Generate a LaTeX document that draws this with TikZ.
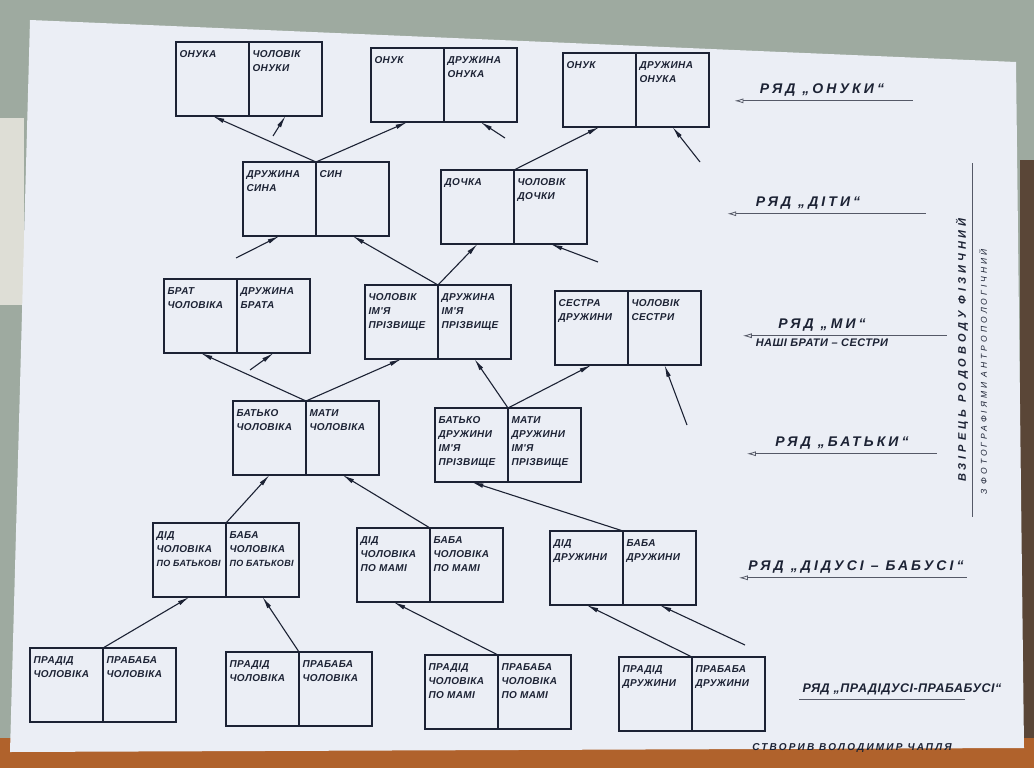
\documentclass[tikz,border=0pt]{standalone}
\usepackage{fontspec}
\newfontfamily\hand[LetterSpace=4]{Liberation Sans}
\newfontfamily\handwide[LetterSpace=22]{Liberation Sans}
\newfontfamily\handvert[LetterSpace=36]{Liberation Sans}
\usetikzlibrary{arrows.meta, positioning}
\definecolor{ink}{RGB}{28,34,52}
\definecolor{paper}{RGB}{235,238,245}
\definecolor{wall}{RGB}{158,170,160}
\definecolor{sill}{RGB}{222,222,214}
\definecolor{wood}{RGB}{176,98,44}
\definecolor{frame}{RGB}{90,70,55}

\newcommand{\cell}[1]{\parbox[t][56pt][t]{66pt}{\raggedright #1}}
\newcommand{\tight}[1]{{\fontsize{9}{14}\selectfont #1}}

\tikzset{
    half/.style={draw=ink, line width=1.6pt, outer sep=0pt, inner sep=0pt,
        minimum width=73pt, minimum height=74pt, text=ink,
        font=\hand\bfseries\itshape\fontsize{10}{14}\selectfont},
    link/.style={draw=ink, line width=1.1pt, -{Latex[length=12pt,width=4.5pt]}},
    rowlabel/.style={text=ink, font=\handwide\bfseries\itshape\fontsize{14}{16}\selectfont},
    rowline/.style={draw=ink!75, line width=0.8pt, {Latex[open,length=9pt,width=5pt]}-}
}

\begin{document}
\begin{tikzpicture}[x=1pt, y=-1pt]
    % photo background and the sheet
    \fill[wall] (0,0) rectangle (1034,768);
    \fill[sill] (0,118) rectangle (24,305);
    \fill[frame] (1020,160) rectangle (1034,740);
    \fill[wood] (0,738) rectangle (1034,768);
    \fill[paper] (30,20) -- (1016,62) -- (1024,748) -- (10,752) -- cycle;
    \useasboundingbox (0,0) rectangle (1034,768);

    % grandchildren
    \node (a_l) [half, anchor=north west] at (176,42) {\cell{ОНУКА}};
    \node (a_r) [half, right=0pt of a_l] {\cell{ЧОЛОВІК\\ОНУКИ}};
    \node (b_l) [half, anchor=north west] at (371,48) {\cell{ОНУК}};
    \node (b_r) [half, right=0pt of b_l] {\cell{ДРУЖИНА\\ОНУКА}};
    \node (c_l) [half, anchor=north west] at (563,53) {\cell{ОНУК}};
    \node (c_r) [half, right=0pt of c_l] {\cell{ДРУЖИНА\\ОНУКА}};

    % children
    \node (d_l) [half, anchor=north west] at (243,162) {\cell{ДРУЖИНА\\СИНА}};
    \node (d_r) [half, right=0pt of d_l] {\cell{СИН}};
    \node (e_l) [half, anchor=north west] at (441,170) {\cell{ДОЧКА}};
    \node (e_r) [half, right=0pt of e_l] {\cell{ЧОЛОВІК\\ДОЧКИ}};

    % we, brothers and sisters
    \node (f_l) [half, anchor=north west] at (164,279) {\cell{БРАТ\\ЧОЛОВІКА}};
    \node (f_r) [half, right=0pt of f_l] {\cell{ДРУЖИНА\\БРАТА}};
    \node (g_l) [half, anchor=north west] at (365,285) {\cell{ЧОЛОВІК\\ІМ'Я\\ПРІЗВИЩЕ}};
    \node (g_r) [half, right=0pt of g_l] {\cell{ДРУЖИНА\\ІМ'Я\\ПРІЗВИЩЕ}};
    \node (h_l) [half, anchor=north west] at (555,291) {\cell{СЕСТРА\\ДРУЖИНИ}};
    \node (h_r) [half, right=0pt of h_l] {\cell{ЧОЛОВІК\\СЕСТРИ}};

    % parents
    \node (i_l) [half, anchor=north west] at (233,401) {\cell{БАТЬКО\\ЧОЛОВІКА}};
    \node (i_r) [half, right=0pt of i_l] {\cell{МАТИ\\ЧОЛОВІКА}};
    \node (j_l) [half, anchor=north west] at (435,408) {\cell{БАТЬКО\\ДРУЖИНИ\\ІМ'Я\\ПРІЗВИЩЕ}};
    \node (j_r) [half, right=0pt of j_l] {\cell{МАТИ\\ДРУЖИНИ\\ІМ'Я\\ПРІЗВИЩЕ}};

    % grandparents
    \node (k_l) [half, anchor=north west] at (153,523) {\cell{ДІД\\ЧОЛОВІКА\\\tight{ПО БАТЬКОВІ}}};
    \node (k_r) [half, right=0pt of k_l] {\cell{БАБА\\ЧОЛОВІКА\\\tight{ПО БАТЬКОВІ}}};
    \node (l_l) [half, anchor=north west] at (357,528) {\cell{ДІД\\ЧОЛОВІКА\\ПО МАМІ}};
    \node (l_r) [half, right=0pt of l_l] {\cell{БАБА\\ЧОЛОВІКА\\ПО МАМІ}};
    \node (m_l) [half, anchor=north west] at (550,531) {\cell{ДІД\\ДРУЖИНИ}};
    \node (m_r) [half, right=0pt of m_l] {\cell{БАБА\\ДРУЖИНИ}};

    % great-grandparents
    \node (n_l) [half, anchor=north west] at (30,648) {\cell{ПРАДІД\\ЧОЛОВІКА}};
    \node (n_r) [half, right=0pt of n_l] {\cell{ПРАБАБА\\ЧОЛОВІКА}};
    \node (o_l) [half, anchor=north west] at (226,652) {\cell{ПРАДІД\\ЧОЛОВІКА}};
    \node (o_r) [half, right=0pt of o_l] {\cell{ПРАБАБА\\ЧОЛОВІКА}};
    \node (p_l) [half, anchor=north west] at (425,655) {\cell{ПРАДІД\\ЧОЛОВІКА\\ПО МАМІ}};
    \node (p_r) [half, right=0pt of p_l] {\cell{ПРАБАБА\\ЧОЛОВІКА\\ПО МАМІ}};
    \node (q_l) [half, anchor=north west] at (619,657) {\cell{ПРАДІД\\ДРУЖИНИ}};
    \node (q_r) [half, right=0pt of q_l] {\cell{ПРАБАБА\\ДРУЖИНИ}};

    % loose ends for in-laws
    \coordinate (a_in) at (273,136);
    \coordinate (b_in) at (505,138);
    \coordinate (c_in) at (700,162);
    \coordinate (d_in) at (236,258);
    \coordinate (e_in) at (598,262);
    \coordinate (f_in) at (250,370);
    \coordinate (h_in) at (687,425);
    \coordinate (m_in) at (745,645);

    \draw[link] (d_l.north east) -- (a_l.south);
    \draw[link] (d_l.north east) -- (b_l.south);
    \draw[link] (e_l.north east) -- (c_l.south);
    \draw[link] (a_in) -- (a_r.south);
    \draw[link] (b_in) -- (b_r.south);
    \draw[link] (c_in) -- (c_r.south);

    \draw[link] (g_l.north east) -- (d_r.south);
    \draw[link] (g_l.north east) -- (e_l.south);
    \draw[link] (d_in) -- (d_l.south);
    \draw[link] (e_in) -- (e_r.south);

    \draw[link] (i_l.north east) -- (f_l.south);
    \draw[link] (i_l.north east) -- (g_l.south);
    \draw[link] (j_l.north east) -- (g_r.south);
    \draw[link] (j_l.north east) -- (h_l.south);
    \draw[link] (f_in) -- (f_r.south);
    \draw[link] (h_in) -- (h_r.south);

    \draw[link] (k_l.north east) -- (i_l.south);
    \draw[link] (l_l.north east) -- (i_r.south);
    \draw[link] (m_l.north east) -- (j_l.south);

    \draw[link] (n_l.north east) -- (k_l.south);
    \draw[link] (o_l.north east) -- (k_r.south);
    \draw[link] (p_l.north east) -- (l_l.south);
    \draw[link] (q_l.north east) -- (m_l.south);
    \draw[link] (m_in) -- (m_r.south);

    % generation labels
    \node (r_onuky) [rowlabel] at (822,90) {РЯД „ОНУКИ“};
    \draw[rowline] ([xshift=-22pt,yshift=-1pt]r_onuky.south west) -- ([xshift=25pt,yshift=-1pt]r_onuky.south east);
    \node (r_dity) [rowlabel] at (808,203) {РЯД „ДІТИ“};
    \draw[rowline] ([xshift=-25pt,yshift=-1pt]r_dity.south west) -- ([xshift=62pt,yshift=-1pt]r_dity.south east);
    \node (r_my) [rowlabel] at (822,325) {РЯД „МИ“};
    \draw[rowline] ([xshift=-32pt,yshift=-1pt]r_my.south west) -- ([xshift=78pt,yshift=-1pt]r_my.south east);
    \node (r_my_sub) [text=ink, font=\hand\bfseries\itshape\fontsize{11}{12}\selectfont, below=1pt of r_my] {НАШІ БРАТИ – СЕСТРИ};
    \node (r_batky) [rowlabel] at (842,443) {РЯД „БАТЬКИ“};
    \draw[rowline] ([xshift=-25pt,yshift=-1pt]r_batky.south west) -- ([xshift=25pt,yshift=-1pt]r_batky.south east);
    \node (r_didusi) [rowlabel] at (856,567) {РЯД „ДІДУСІ – БАБУСІ“};
    \draw[rowline] ([xshift=-6pt,yshift=-1pt]r_didusi.south west) -- ([xshift=0pt,yshift=-1pt]r_didusi.south east);
    \node (r_pradidusi) [rowlabel, font=\hand\bfseries\itshape\fontsize{12.5}{15}\selectfont] at (902,689) {РЯД „ПРАДІДУСІ-ПРАБАБУСІ“};
    \draw[draw=ink!75, line width=0.8pt] ([yshift=-1pt]r_pradidusi.south west) -- ([xshift=-40pt,yshift=-1pt]r_pradidusi.south east);

    % title along the right edge
    \node (title) [rotate=90, text=ink, font=\handvert\bfseries\itshape\fontsize{11}{12}\selectfont] at (962,350) {ВЗІРЕЦЬ РОДОВОДУ ФІЗИЧНИЙ};
    \node (subtitle) [rotate=90, text=ink, font=\handvert\itshape\fontsize{8.5}{10}\selectfont] at (983,372) {З ФОТОГРАФІЯМИ АНТРОПОЛОГІЧНИЙ};
    \coordinate (title_top) at (972,163);
    \coordinate (title_bot) at (972,517);
    \draw[ink!75, line width=0.8pt] (title_top) -- (title_bot);

    \node (author) [text=ink, font=\handwide\bfseries\itshape\fontsize{10}{12}\selectfont] at (852,748) {СТВОРИВ ВОЛОДИМИР ЧАПЛЯ};
\end{tikzpicture}
\end{document}
